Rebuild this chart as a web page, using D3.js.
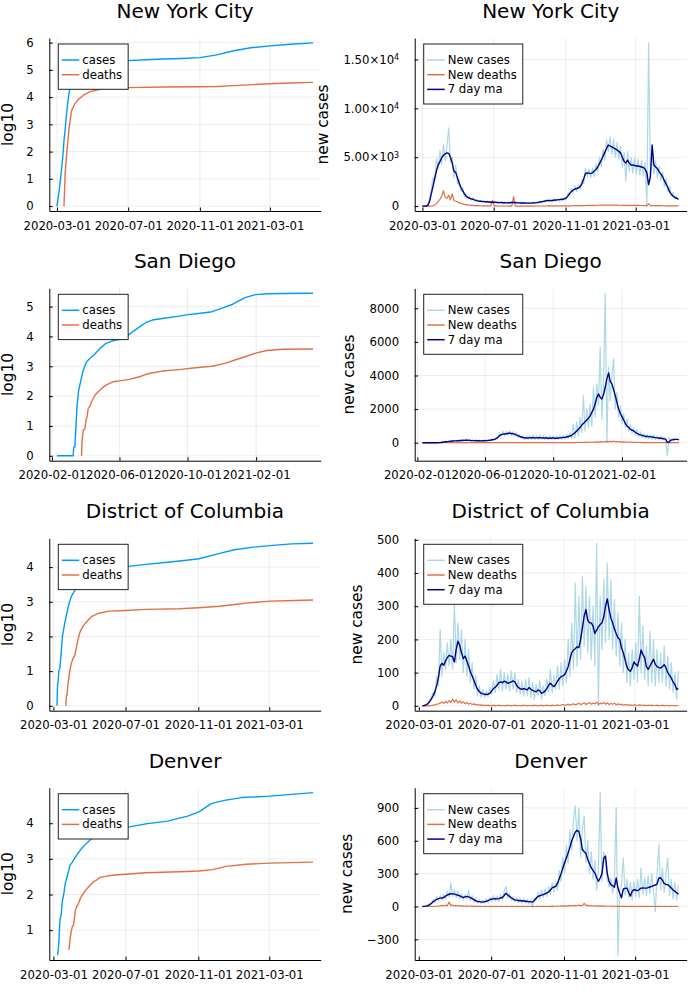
<!DOCTYPE html>
<html><head><meta charset="utf-8">
<script src="https://cdn.jsdelivr.net/npm/d3@7"></script>
<style>
body{margin:0;background:#fff;}
svg{display:block;font-family:"DejaVu Sans",sans-serif;}
</style></head><body>
<svg id="chart" width="699" height="999"></svg>
<script>
// ---------------- DATA ----------------
const cityNames = ["New York City", "San Diego", "District of Columbia", "Denver"];
const cityStarts = ["2020-03-01", "2020-02-10", "2020-03-07", "2020-03-07"];
const dataEnd = "2021-05-14";
const dailyStep = 3; // daily series below are sampled every 3 days from the city start

const xTicksMar = ["2020-03-01", "2020-07-01", "2020-11-01", "2021-03-01"];
const xTicksFeb = ["2020-02-01", "2020-06-01", "2020-10-01", "2021-02-01"];

// cumulative log10 series: [day offset from city start, log10 value]
const nycCasesLog = [[0,0],[2,0.3],[4,0.6],[6,1.0],[8,1.4],[10,1.8],[12,2.4],[14,2.8],[16,3.3],[18,3.7],[20,4.05],[22,4.3],[25,4.5],[30,4.72],[35,4.86],[40,4.96],[45,5.04],[50,5.11],[60,5.2],[75,5.26],[92,5.3],[122,5.34],[153,5.37],[184,5.4],[214,5.42],[245,5.45],[274,5.55],[303,5.7],[332,5.81],[365,5.88],[400,5.94],[439,5.99]];
const nycDeathsLog = [[12,0],[14,1.2],[17,2.0],[21,2.9],[25,3.5],[31,3.77],[37,3.92],[46,4.08],[57,4.2],[74,4.29],[92,4.33],[122,4.35],[184,4.37],[245,4.38],[274,4.39],[303,4.42],[335,4.46],[365,4.49],[400,4.52],[439,4.54]];
const sdCasesLog = [[0,0],[29,0],[30,0.3],[32,0.3],[34,0.97],[36,1.7],[39,2.2],[43,2.54],[47,2.87],[53,3.15],[59,3.26],[68,3.41],[77,3.6],[88,3.77],[100,3.85],[112,3.9],[124,3.99],[136,4.16],[148,4.32],[159,4.46],[171,4.55],[189,4.6],[219,4.68],[235,4.73],[254,4.77],[278,4.83],[295,4.94],[315,5.08],[337,5.3],[356,5.4],[377,5.43],[406,5.44],[459,5.45]];
const sdDeathsLog = [[44,0],[45,0.5],[47,0.86],[50,0.9],[52,1.2],[54,1.31],[56,1.59],[59,1.65],[62,1.81],[65,1.92],[68,2.03],[74,2.15],[80,2.26],[88,2.37],[100,2.48],[112,2.51],[130,2.56],[148,2.65],[165,2.76],[189,2.84],[219,2.89],[248,2.95],[278,3.0],[301,3.1],[319,3.21],[337,3.32],[356,3.44],[376,3.53],[405,3.57],[459,3.58]];
const dcCasesLog = [[0,0],[1,0.63],[2,0.7],[3,1.0],[5,1.1],[7,1.5],[9,1.98],[13,2.37],[17,2.7],[21,2.99],[25,3.18],[31,3.35],[40,3.52],[55,3.7],[70,3.82],[86,3.92],[100,3.98],[121,4.02],[150,4.08],[187,4.14],[215,4.19],[240,4.24],[272,4.38],[300,4.5],[329,4.57],[360,4.62],[397,4.67],[433,4.69]];
const dcDeathsLog = [[15,0],[16,0.3],[17,0.3],[18,0.54],[21,0.92],[22,1.02],[24,1.21],[27,1.36],[30,1.45],[33,1.69],[35,1.88],[39,2.13],[45,2.32],[51,2.44],[59,2.58],[71,2.67],[88,2.73],[116,2.75],[150,2.78],[207,2.8],[239,2.83],[275,2.87],[300,2.92],[320,2.96],[360,3.02],[433,3.05]];
const denCasesLog = [[1,0.3],[3,0.6],[5,1.29],[7,1.43],[9,1.8],[12,2.07],[14,2.31],[17,2.49],[20,2.68],[22,2.82],[26,2.91],[31,3.05],[37,3.19],[42,3.3],[48,3.4],[56,3.53],[62,3.6],[80,3.72],[100,3.82],[120,3.89],[153,3.99],[187,4.06],[221,4.2],[240,4.32],[261,4.55],[283,4.64],[312,4.72],[360,4.76],[433,4.86]];
const denDeathsLog = [[20,0.45],[21,0.55],[22,0.73],[24,0.96],[26,1.1],[28,1.15],[30,1.38],[31,1.56],[34,1.68],[37,1.77],[39,1.87],[42,1.96],[45,2.03],[48,2.12],[51,2.17],[56,2.26],[62,2.36],[68,2.42],[73,2.48],[82,2.51],[93,2.54],[116,2.57],[150,2.61],[207,2.64],[239,2.66],[263,2.7],[286,2.79],[320,2.85],[360,2.88],[433,2.91]];

// daily series (every 3 days)
const nycNewCases = [
0,3,15,120,700,1600,2900,2600,4800,3900,
5700,4300,6300,4600,6200,8000,4500,5000,2900,4200,
2300,2700,1500,1900,1000,1300,750,1000,600,850,
500,700,420,620,380,560,360,520,330,480,
300,500,290,450,270,460,260,420,250,430,
270,470,280,450,250,410,240,420,230,400,
220,380,230,410,250,450,290,520,350,600,
420,700,470,680,460,730,500,780,520,820,
560,900,700,1350,1050,1800,1400,2100,1500,2200,
1700,2700,2300,3900,3000,3800,2900,3900,3000,4300,
3500,5000,4000,5800,4700,6800,5600,7100,5300,6800,
5000,6500,4800,6100,4000,5500,2600,5600,3600,5000,
3400,4900,3300,4800,3200,4700,3100,4500,0,16700,
3200,5000,3300,4600,2900,4100,2600,3500,2000,2800,
1500,2000,1000,1400,700,1000,600];
const nycMA = [
0,2,10,60,400,1200,2000,2800,3600,4200,
4550,4950,5200,5350,5450,5400,5000,4400,3550,3450,
2900,2300,1900,1550,1250,1000,880,800,730,690,
620,560,520,500,480,460,450,440,420,400,
390,400,380,370,360,370,350,340,330,340,
350,370,380,360,340,330,320,330,320,310,
300,300,310,320,330,350,380,420,450,480,
520,560,580,560,580,600,620,640,660,680,
700,750,820,1050,1300,1500,1650,1750,1800,1850,
2000,2300,2800,3350,3400,3350,3350,3400,3600,3750,
4000,4350,4700,5100,5500,5900,6250,6150,6050,5950,
5850,5750,5600,5450,5000,4600,4400,4700,4400,4200,
4200,4150,4100,4100,4050,4000,3950,3800,3400,2200,
3000,6250,4200,4000,3850,3500,3300,3000,2600,2250,
1900,1450,1200,1000,900,800,720];
const nycNewDeaths = [
0,0,0,0,1,8,30,100,250,480,
700,1000,1570,900,800,1100,650,1250,550,500,
450,330,280,230,180,150,120,100,80,65,
55,45,40,35,30,28,25,22,20,18,
600,15,14,12,12,10,10,9,9,8,
8,8,960,7,7,6,6,6,6,6,
6,7,7,8,8,9,9,10,10,12,
12,13,14,15,16,17,18,19,20,22,
24,26,28,30,33,36,40,42,45,48,
52,55,58,62,65,70,72,75,80,85,
88,90,92,95,98,100,100,98,96,95,
92,90,88,86,84,82,80,78,76,74,
72,70,68,66,64,62,60,58,56,250,
55,52,50,48,45,42,40,38,35,32,
30,28,26,25,22,20,18];

const sdNewCases = [
0,0,0,0,0,0,0,0,0,2,
8,20,40,50,75,60,100,80,130,90,
160,100,170,110,220,120,250,110,200,90,
180,100,170,90,160,80,170,90,190,100,
200,120,260,150,320,250,600,380,700,400,
680,420,720,420,650,380,600,300,480,250,
400,200,380,220,420,200,460,180,430,190,
450,180,420,170,400,160,430,170,420,160,
400,190,430,200,450,220,500,250,600,270,
1100,300,1250,400,1500,600,2800,700,2000,900,
2300,1000,3300,1500,3500,2200,5700,1400,3600,8900,
0,4500,2500,4000,5000,2000,3000,1500,2200,1100,
1700,900,1400,700,1100,550,900,450,800,350,
650,300,550,250,500,250,480,200,450,180,
420,160,400,150,350,100,-780,300,100,250,
150,220,180,200];
const sdMA = [
0,0,0,0,0,0,0,0,0,1,
3,10,25,40,55,65,80,90,100,110,
110,115,120,130,135,140,150,145,140,130,
125,125,120,115,115,110,115,120,125,130,
140,160,180,200,240,330,420,480,510,520,
530,560,560,550,530,510,470,420,370,340,
310,290,280,280,290,300,300,290,290,300,
300,290,280,280,280,270,270,280,280,270,
270,280,290,300,310,320,340,370,400,440,
520,600,700,800,900,1050,1150,1250,1350,1450,
1600,1800,2000,2300,2700,2900,2700,2600,2850,3300,
3800,4150,3650,3500,3150,2800,2400,2000,1750,1550,
1350,1150,1000,900,800,750,700,620,550,500,
470,440,410,380,370,360,350,340,320,300,
290,280,270,250,230,210,30,20,150,170,
190,200,200,170];
const sdNewDeaths = [
0,0,0,0,0,0,0,0,0,0,
0,0,0,0,0,1,2,3,4,3,
5,4,6,5,6,4,5,4,5,3,
4,3,5,3,4,3,2,3,2,3,
4,3,5,6,8,6,9,7,10,8,
9,7,8,6,7,5,6,4,5,4,
5,3,4,3,4,3,4,2,4,3,
4,2,3,2,3,2,4,3,4,3,
5,4,6,5,8,6,9,7,10,8,
12,10,15,12,18,14,22,18,28,22,
35,28,42,30,50,38,60,45,70,50,
75,55,80,60,100,55,70,45,60,40,
50,35,40,28,32,22,25,18,20,14,
15,10,12,8,9,6,7,5,6,4,
5,3,4,3,3,2,3,2,2,1,
2,1,1,1];

const dcNewCases = [
0,1,2,8,15,25,40,30,90,60,
230,90,160,110,190,120,200,110,310,130,
250,140,230,100,200,90,170,70,130,50,
90,30,60,25,50,25,45,28,55,35,
75,40,95,50,110,45,100,50,95,45,
105,50,100,40,80,35,75,30,80,30,
85,25,70,20,65,30,75,20,60,30,
80,40,110,40,90,50,120,50,130,60,
140,70,200,90,250,110,370,120,330,140,
390,180,360,160,330,140,300,120,490,0,
330,170,380,190,430,200,380,170,320,150,
280,120,250,100,200,70,160,60,170,80,
190,70,330,100,240,80,180,60,225,70,
200,60,170,70,160,70,180,60,150,50,
130,40,100,20,105];
const dcMA = [
0,1,3,6,12,20,30,42,60,85,
120,128,122,135,145,152,150,148,132,170,
195,182,160,142,150,135,120,102,90,76,
62,50,43,38,36,35,34,35,38,45,
52,56,62,70,72,70,74,72,68,70,
72,75,72,62,55,52,50,52,50,48,
55,50,46,44,42,48,45,38,40,45,
52,62,68,62,58,65,74,82,88,90,
94,105,118,140,160,168,172,178,175,200,
235,270,290,258,250,250,240,218,228,238,
245,250,268,300,322,290,265,250,232,218,
205,200,175,160,140,118,108,104,115,132,
125,120,140,168,155,145,118,110,120,130,
140,125,118,115,114,118,124,115,100,92,
84,72,64,50,52];
const dcNewDeaths = [
0,0,0,0,0,1,2,3,5,6,
8,12,7,14,9,16,10,20,11,18,
9,15,8,12,6,10,5,8,4,6,
3,4,2,3,1,2,1,2,0,1,
2,0,1,2,0,1,1,0,2,1,
0,1,2,0,1,1,0,2,1,0,
1,1,0,2,1,0,1,2,0,1,
2,1,0,2,1,1,3,1,2,4,
2,3,5,2,4,6,3,5,8,4,
6,9,4,7,10,5,8,6,11,4,
8,6,10,5,9,4,7,5,8,3,
6,4,5,2,4,3,2,3,1,3,
2,1,3,2,1,2,1,2,1,2,
1,1,2,0,1,2,0,1,1,0,
1,1,0,1,1];

const denNewCases = [
0,2,5,15,30,25,60,40,90,55,
100,60,110,70,140,85,214,90,150,80,
140,70,120,60,110,70,150,55,100,40,
80,30,65,25,60,30,70,35,85,45,
100,50,95,45,110,60,140,184,80,120,
55,90,40,80,35,75,30,70,30,65,
20,60,-10,80,60,130,70,150,80,160,
90,180,110,220,130,230,150,330,230,450,
310,560,400,700,520,800,918,600,900,450,
700,826,400,600,300,500,250,420,150,330,
1040,230,500,400,250,180,260,120,240,903,
-444,150,200,444,100,250,80,220,60,230,
90,250,80,350,110,260,100,280,120,300,
130,-46,300,566,150,350,130,300,444,100,
250,70,220,60,200];
const denMA = [
0,1,3,8,15,28,42,55,65,72,
76,77,82,95,105,112,116,115,113,108,
103,98,88,82,88,92,88,80,72,62,
52,46,44,42,40,44,48,54,62,68,
70,72,70,72,78,82,100,122,105,92,
80,68,60,58,55,52,52,50,48,46,
44,42,40,55,75,92,98,104,108,115,
125,132,150,170,178,184,210,255,300,352,
400,444,490,540,600,640,680,695,683,620,
520,500,485,430,390,352,330,306,265,230,
260,300,440,460,300,230,200,190,175,260,
168,120,80,160,165,168,130,95,140,153,
150,144,155,168,170,168,168,172,178,184,
190,196,205,260,262,240,210,202,199,185,
168,150,138,125,113];
const denNewDeaths = [
0,0,0,0,0,0,0,1,2,4,
6,10,5,12,7,40,8,14,5,10,
4,8,3,6,2,5,2,4,1,3,
1,2,1,2,0,1,2,0,1,1,
0,2,1,0,1,1,0,2,1,0,
1,1,0,1,2,0,1,1,0,1,
0,1,1,0,1,2,0,1,2,1,
0,2,1,3,1,2,4,2,5,3,
6,4,8,5,9,6,10,7,12,8,
10,28,7,12,6,9,5,7,4,6,
3,5,3,4,2,3,2,3,1,2,
1,2,1,2,1,2,0,1,2,1,
0,1,2,1,0,1,2,1,0,1,
1,0,1,2,1,0,1,1,0,1,
1,0,1,1,0];

// y tick values and labels
const nycLogTicks = [0, 1, 2, 3, 4, 5, 6];
const sdLogTicks = [0, 1, 2, 3, 4, 5];
const dcLogTicks = [0, 1, 2, 3, 4];
const denLogTicks = [1, 2, 3, 4];
const nycRateTicks = [0, 5000, 10000, 15000];
const nycRateTickText = [["0", ""], ["5.00×10", "3"], ["1.00×10", "4"], ["1.50×10", "4"]];
const sdRateTicks = [0, 2000, 4000, 6000, 8000];
const sdRateTickText = [["0", ""], ["2000", ""], ["4000", ""], ["6000", ""], ["8000", ""]];
const dcRateTicks = [0, 100, 200, 300, 400, 500];
const dcRateTickText = [["0", ""], ["100", ""], ["200", ""], ["300", ""], ["400", ""], ["500", ""]];
const denRateTicks = [-300, 0, 300, 600, 900];
const denRateTickText = [["−300", ""], ["0", ""], ["300", ""], ["600", ""], ["900", ""]];

const leftLegend = ["cases", "deaths"];
const rightLegend = ["New cases", "New deaths", "7 day ma"];

// ---------------- BUILD ----------------
const cities = [
  {name: cityNames[0], start: cityStarts[0], xTicks: xTicksMar, casesLog: nycCasesLog, deathsLog: nycDeathsLog,
   newCases: nycNewCases, ma: nycMA, newDeaths: nycNewDeaths, logTicks: nycLogTicks, rateTicks: nycRateTicks, rateText: nycRateTickText},
  {name: cityNames[1], start: cityStarts[1], xTicks: xTicksFeb, casesLog: sdCasesLog, deathsLog: sdDeathsLog,
   newCases: sdNewCases, ma: sdMA, newDeaths: sdNewDeaths, logTicks: sdLogTicks, rateTicks: sdRateTicks, rateText: sdRateTickText},
  {name: cityNames[2], start: cityStarts[2], xTicks: xTicksMar, casesLog: dcCasesLog, deathsLog: dcDeathsLog,
   newCases: dcNewCases, ma: dcMA, newDeaths: dcNewDeaths, logTicks: dcLogTicks, rateTicks: dcRateTicks, rateText: dcRateTickText},
  {name: cityNames[3], start: cityStarts[3], xTicks: xTicksMar, casesLog: denCasesLog, deathsLog: denDeathsLog,
   newCases: denNewCases, ma: denMA, newDeaths: denNewDeaths, logTicks: denLogTicks, rateTicks: denRateTicks, rateText: denRateTickText}
];

const parse = d3.utcParse("%Y-%m-%d");
const fmt = d3.utcFormat("%Y-%m-%d");
const svg = d3.select("#chart");

const colX = [[49.3, 320.7], [414.7, 686.7]];
const rowY = [[38, 211], [288.3, 460.7], [538.3, 710.7], [787.7, 960]];
const FONT_TICK = 11.7, FONT_TITLE = 20, FONT_LABEL = 15.4, FONT_LEGEND = 11.7;
const C_CASES = "#009AFA", C_DEATHS = "#E36F47", C_NEW = "#ADD8E6", C_MA = "#00008B";

function pad(lo, hi) { const p = (hi - lo) * 0.03; return [lo - p, hi + p]; }

function drawPanel(col, row, o) {
  const [x0, x1] = colX[col], [y0, y1] = rowY[row];
  const g = svg.append("g");
  const x = d3.scaleUtc().domain(o.xDomain).range([x0, x1]);
  const y = d3.scaleLinear().domain(o.yDomain).range([y1, y0]);

  // grid
  const grid = g.append("g").attr("stroke", "#000").attr("stroke-opacity", 0.1).attr("stroke-width", 0.7);
  grid.selectAll("line.gx").data(o.xTicks).join("line").attr("class", "gx")
    .attr("x1", d => x(d)).attr("x2", d => x(d)).attr("y1", y0).attr("y2", y1);
  grid.selectAll("line.gy").data(o.yTicks).join("line").attr("class", "gy")
    .attr("x1", x0).attr("x2", x1).attr("y1", d => y(d)).attr("y2", d => y(d));

  // series
  const line = d3.line().x(d => x(d[0])).y(d => y(d[1]));
  o.series.forEach(s => {
    g.append("path").datum(s.pts).attr("d", line).attr("fill", "none")
      .attr("stroke", s.color).attr("stroke-width", s.width).attr("stroke-linejoin", "round");
  });

  // axes
  const gx = g.append("g").attr("transform", `translate(0,${y1})`)
    .call(d3.axisBottom(x).tickValues(o.xTicks).tickFormat(fmt).tickSizeInner(-3.5).tickSizeOuter(0).tickPadding(10.3));
  const gy = g.append("g").attr("transform", `translate(${x0},0)`)
    .call(d3.axisLeft(y).tickValues(o.yTicks).tickFormat(() => "").tickSizeInner(-3.5).tickSizeOuter(0).tickPadding(15.5));
  [gx, gy].forEach(a => {
    a.attr("font-size", FONT_TICK).attr("font-family", "DejaVu Sans").attr("color", "#000");
    a.select(".domain").attr("stroke-width", 1);
  });
  gy.selectAll(".tick text").each(function(d, i) {
    const t = d3.select(this);
    const lab = o.yText[i];
    t.append("tspan").text(lab[0]);
    if (lab[1]) t.append("tspan").attr("dy", "-0.45em").attr("font-size", 8).text(lab[1]);
  });

  // y label (kept fully inside the page)
  let minX = Infinity;
  gy.selectAll(".tick text").each(function() { const b = this.getBBox(); minX = Math.min(minX, x0 + b.x); });
  const lx = Math.max(minX - 15.3, 13);
  g.append("text").attr("transform", `translate(${lx},${(y0 + y1) / 2}) rotate(-90)`)
    .attr("text-anchor", "middle").attr("font-size", FONT_LABEL).attr("fill", "#000").text(o.ylabel);

  // title
  g.append("text").attr("x", (x0 + x1) / 2).attr("y", y0 - 20).attr("text-anchor", "middle")
    .attr("font-size", FONT_TITLE).attr("fill", "#000").text(o.title);

  // legend
  const lg = g.append("g").attr("transform", `translate(${x0 + 9},${y0 + 6})`);
  const box = lg.append("rect").attr("fill", "#fff").attr("stroke", "#222").attr("stroke-width", 1);
  let tw = 0;
  o.legend.forEach((e, i) => {
    const cy = 16 + 14.7 * i;
    lg.append("line").attr("x1", 3.5).attr("x2", 21).attr("y1", cy).attr("y2", cy)
      .attr("stroke", e.color).attr("stroke-width", 1.5);
    const t = lg.append("text").attr("x", 24).attr("y", cy).attr("dy", "0.35em")
      .attr("font-size", FONT_LEGEND).attr("fill", "#000").text(e.label);
    tw = Math.max(tw, t.node().getComputedTextLength());
  });
  box.attr("width", 26 + tw + 4).attr("height", 14.7 * o.legend.length + 15.9);
}

cities.forEach((c, r) => {
  const start = parse(c.start), end = parse(dataEnd);
  const xDomain = pad(+start, +end).map(v => new Date(v));
  const xTicks = c.xTicks.map(parse);
  const day = n => d3.utcDay.offset(start, n);
  const cum = arr => arr.map(p => [day(p[0]), p[1]]);
  const daily = arr => arr.map((v, i) => [day(i * dailyStep), v]);

  const lv = c.casesLog.concat(c.deathsLog).map(p => p[1]);
  drawPanel(0, r, {
    title: c.name, xDomain, xTicks,
    yDomain: pad(d3.min(lv), d3.max(lv)),
    yTicks: c.logTicks, yText: c.logTicks.map(v => [String(v), ""]),
    ylabel: "log10",
    series: [
      {pts: cum(c.casesLog), color: C_CASES, width: 1.4},
      {pts: cum(c.deathsLog), color: C_DEATHS, width: 1.4}
    ],
    legend: [{label: leftLegend[0], color: C_CASES}, {label: leftLegend[1], color: C_DEATHS}]
  });

  const rv = c.newCases.concat(c.ma, c.newDeaths);
  drawPanel(1, r, {
    title: c.name, xDomain, xTicks,
    yDomain: pad(d3.min(rv), d3.max(rv)),
    yTicks: c.rateTicks, yText: c.rateText,
    ylabel: "new cases",
    series: [
      {pts: daily(c.newCases), color: C_NEW, width: 1.2},
      {pts: daily(c.newDeaths), color: C_DEATHS, width: 1.2},
      {pts: daily(c.ma), color: C_MA, width: 1.4}
    ],
    legend: [{label: rightLegend[0], color: C_NEW}, {label: rightLegend[1], color: C_DEATHS}, {label: rightLegend[2], color: C_MA}]
  });
});
</script>
</body></html>
